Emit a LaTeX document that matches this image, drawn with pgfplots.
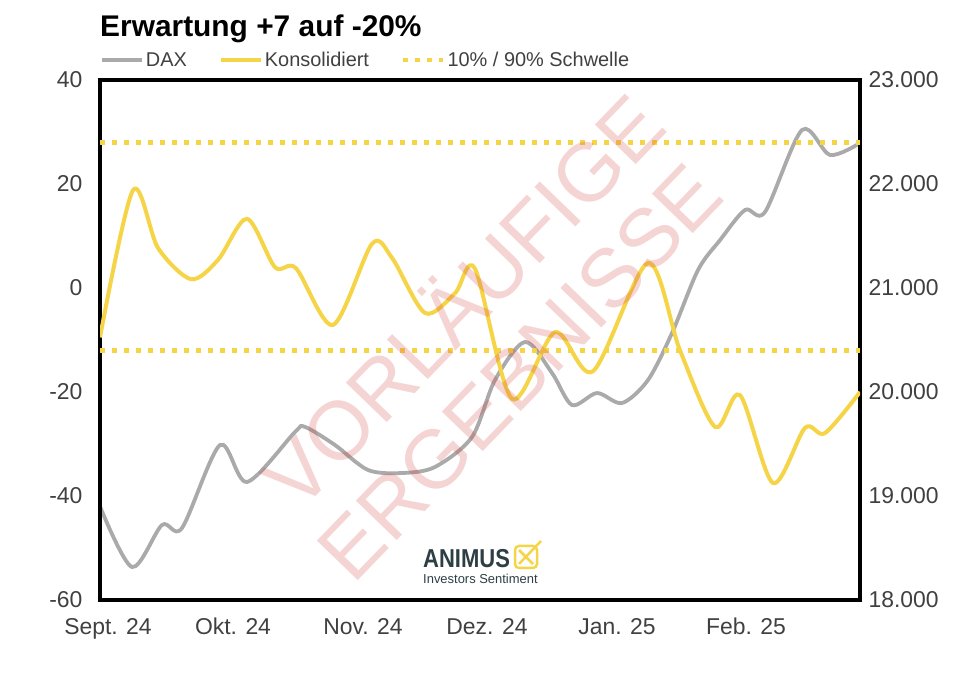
\documentclass[border=0pt]{standalone}
\usepackage{pgfplots}
\pgfplotsset{compat=1.18}
\usepackage{graphicx}
\usepackage{fontspec}
\setmainfont{Liberation Sans}
\definecolor{dax}{RGB}{170,170,170}
\definecolor{kons}{RGB}{245,213,71}
\definecolor{wm}{RGB}{210,60,60}
\definecolor{logo}{RGB}{45,62,69}
\definecolor{tickc}{RGB}{64,64,64}
\begin{document}
\begin{tikzpicture}
\path[use as bounding box] (0,0) rectangle (960bp,680bp);
% DAX on right axis
\begin{axis}[
  at={(100bp,80bp)}, anchor=south west,
  width=760bp, height=520bp, scale only axis,
  xmin=0, xmax=760, ymin=18000, ymax=23000,
  axis y line*=right, axis x line=none,
  axis line style={draw=none},
  major tick length=0,
  scaled y ticks=false,
  ytick={18000,19000,20000,21000,22000,23000},
  yticklabels={18.000,19.000,20.000,21.000,22.000,23.000},
  yticklabel style={font=\fontsize{23}{23}\selectfont, text=tickc, xshift=5bp},
]
\addplot[dax, line width=3.8bp, smooth, tension=0.5] coordinates {
(0,18900) (32,18317) (62,18721) (82,18692) (120,19490) (147,19135)
(195,19615) (205,19664) (235,19490) (268,19250) (302,19221) (335,19279)
(372,19567) (395,20115) (425,20481) (452,20183) (472,19875) (497,19990)
(522,19894) (548,20115) (572,20567) (598,21173) (620,21460) (645,21750)
(665,21731) (702,22519) (730,22279) (760,22394)
};
\end{axis}
% Konsolidiert on left axis
\begin{axis}[
  at={(100bp,80bp)}, anchor=south west,
  width=760bp, height=520bp, scale only axis,
  xmin=0, xmax=760, ymin=-60, ymax=40,
  axis line style={line width=3.5bp, black},
  major tick length=0,
  ytick={-60,-40,-20,0,20,40},
  xtick={8,133,263,387,517,646},
  xticklabels={Sept. 24,Okt. 24,Nov. 24,Dez. 24,Jan. 25,Feb. 25},
  /pgf/number format/assume math mode=true,
  yticklabel style={font=\fontsize{23}{23}\selectfont, text=tickc, xshift=-14bp},
  xticklabel style={font=\fontsize{23}{23}\selectfont, text=tickc, yshift=-14bp, text height=17bp, text depth=5bp},
  legend columns=3,
  legend style={at={(0,1)}, anchor=west, yshift=20bp, xshift=0bp, draw=none, fill=none, inner sep=0pt,
    font=\fontsize{20}{20}\selectfont, text=tickc,
    /tikz/every even column/.append style={column sep=30bp}},
  legend image code/.code={\draw[#1] (0bp,0bp) -- (40bp,0bp);},
]
\addlegendimage{dax, line width=3.8bp}
\addlegendentry{DAX}
\addplot[kons, line width=4bp, smooth, tension=0.5] coordinates {
(0,-9.5) (33,18.8) (58,7.7) (91,1.7) (118,5.4) (147,13.3) (175,4.0)
(196,3.8) (233,-7.1) (272,8.5) (292,5.8) (325,-4.8) (355,-1.0) (375,3.7)
(412,-21.3) (455,-8.5) (493,-16.0) (548,4.8) (580,-12) (615,-26.7)
(640,-20.6) (673,-37.5) (705,-26.9) (725,-27.9) (760,-20)
};
\addlegendentry{Konsolidiert}
\addplot[kons, line width=4.5bp, dash pattern=on 5bp off 7bp] coordinates {(0,28) (760,28)};
\addlegendentry{10\% / 90\% Schwelle}
\addplot[kons, line width=4.5bp, dash pattern=on 5bp off 7bp, forget plot] coordinates {(0,-12) (760,-12)};
\end{axis}
% title
\node[anchor=base west, inner sep=0, font=\bfseries\fontsize{30}{30}\selectfont] at (100bp,643bp) {Erwartung +7 auf -20\%};
% watermark
\node[rotate=46, font=\fontsize{83}{83}\selectfont, text=wm, opacity=0.22] at (460bp,382bp) {VORLÄUFIGE};
\node[rotate=46, font=\fontsize{83}{83}\selectfont, text=wm, opacity=0.22] at (520bp,308bp) {ERGEBNISSE};
% logo
\node[anchor=base west, inner sep=0, font=\bfseries\fontsize{26}{26}\selectfont, text=logo] at (423bp,112bp) {\scalebox{0.85}[1]{ANIMUS}};
\draw[kons, line width=2.5bp, rounded corners=4bp] (515bp,112bp) rectangle (537bp,134bp);
\draw[kons, line width=2.5bp] (519bp,130bp) -- (533bp,116bp);
\draw[kons, line width=2.5bp] (519bp,116bp) -- (541bp,139bp);
\node[anchor=base west, inner sep=0, font=\fontsize{13}{13}\selectfont, text=logo] at (423bp,96bp) {Investors Sentiment};
\end{tikzpicture}
\end{document}
